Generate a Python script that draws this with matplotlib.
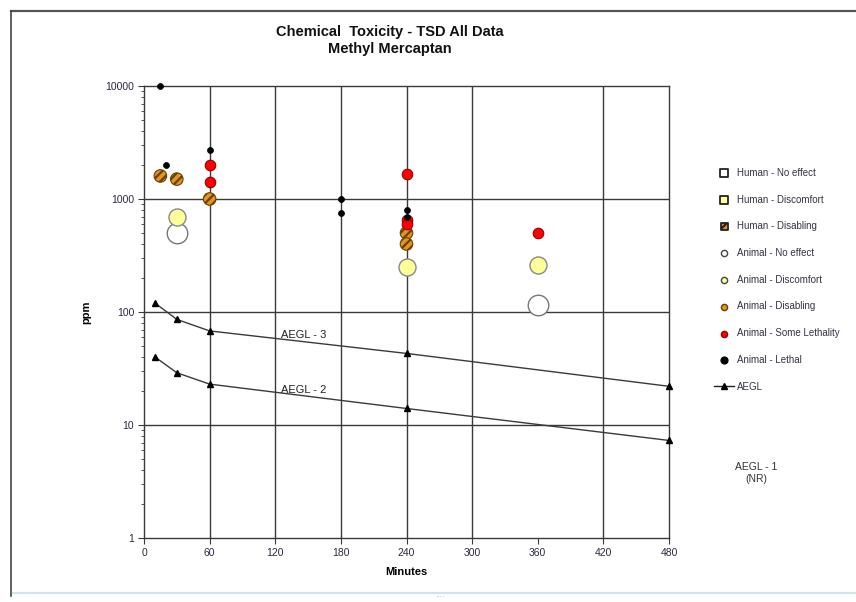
import matplotlib
matplotlib.use("Agg")
import matplotlib.pyplot as plt
from matplotlib.lines import Line2D
import numpy as np

plt.rcParams['font.family'] = ['Liberation Sans', 'DejaVu Sans']
plt.rcParams['hatch.linewidth'] = 1.6

# ---- data ----
animal_noeffect_t = [30, 360]
animal_noeffect_ppm = [500, 115]

animal_discomfort_t = [30, 240, 360]
animal_discomfort_ppm = [700, 250, 260]

animal_disabling_t = [15, 30, 60, 240, 240]
animal_disabling_ppm = [1600, 1500, 1000, 500, 400]

animal_somelethal_t = [60, 60, 240, 240, 240, 360]
animal_somelethal_ppm = [2000, 1400, 1650, 650, 600, 500]

animal_lethal_t = [15, 20, 60, 180, 180, 240, 240]
animal_lethal_ppm = [10000, 2000, 2700, 1000, 750, 800, 700]

aegl_t = [10, 30, 60, 240, 480]
aegl3_ppm = [120, 86, 68, 43, 22]
aegl2_ppm = [40, 29, 23, 14, 7.3]

x_ticks = [0, 60, 120, 180, 240, 300, 360, 420, 480]
x_grid = [60, 120, 180, 240, 300, 420]
y_ticks = [1, 10, 100, 1000, 10000]
y_tick_labels = ['1', '10', '100', '1000', '10000']

# ---- figure ----
W, H = 856, 602
fig = plt.figure(figsize=(W / 100, H / 100), dpi=100)
ax = fig.add_axes([144 / W, 1 - 538 / H, (669 - 144) / W, (538 - 86) / H])

ax.set_yscale('log')
ax.set_xlim(0, 480)
ax.set_ylim(1, 10000)

gridc = '#3a3a3a'
for yv in y_ticks[1:-1]:
    ax.axhline(yv, color=gridc, lw=1.0, zorder=1)
for xv in x_grid:
    ax.axvline(xv, color=gridc, lw=1.0, zorder=1)

for s in ['left', 'bottom', 'top', 'right']:
    ax.spines[s].set_color(gridc)
    ax.spines[s].set_linewidth(1.0)

ax.set_xticks(x_ticks)
ax.set_xticklabels([str(v) for v in x_ticks])
ax.set_yticks(y_ticks)
ax.set_yticklabels(y_tick_labels)
ax.tick_params(axis='both', which='major', direction='out', length=4, width=0.8,
               colors=gridc, labelsize=7.5, labelcolor='#2a2a40', pad=3)
ax.tick_params(axis='y', which='minor', direction='out', length=2.5, width=0.6, colors=gridc)
ax.yaxis.set_minor_formatter(matplotlib.ticker.NullFormatter())

ax.set_xlabel('Minutes', fontsize=8, fontweight='bold', labelpad=7)
ax.set_ylabel('ppm', fontsize=8, fontweight='bold', labelpad=10)

# AEGL lines
ax.plot(aegl_t, aegl3_ppm, color='#3a3a3a', lw=1.0, marker='^', ms=4.5,
        mfc='black', mec='black', zorder=3, clip_on=False)
ax.plot(aegl_t, aegl2_ppm, color='#3a3a3a', lw=1.0, marker='^', ms=4.5,
        mfc='black', mec='black', zorder=3, clip_on=False)
ax.text(125, 63, 'AEGL - 3', fontsize=8, color='#222222', ha='left', va='center')
ax.text(125, 20.5, 'AEGL - 2', fontsize=8, color='#222222', ha='left', va='center')

# animal series
a_ne = ax.scatter(animal_noeffect_t, animal_noeffect_ppm, s=20.5 ** 2 * 0.52, marker='o',
                  facecolor='white', edgecolor='#777777', lw=1.0, zorder=4)
a_dc = ax.scatter(animal_discomfort_t, animal_discomfort_ppm, s=17 ** 2 * 0.52, marker='o',
                  facecolor='#FFFF99', edgecolor='#888888', lw=1.0, zorder=5)
a_db = ax.scatter(animal_disabling_t, animal_disabling_ppm, s=12.5 ** 2 * 0.52, marker='o',
                  facecolor='#E0961E', edgecolor='#6b3f00', hatch='////', lw=0.8, zorder=6)
a_sl = ax.scatter(animal_somelethal_t, animal_somelethal_ppm, s=10.5 ** 2 * 0.52, marker='o',
                  facecolor='#FF0000', edgecolor='#990000', lw=0.8, zorder=7)
a_le = ax.scatter(animal_lethal_t, animal_lethal_ppm, s=6 ** 2 * 0.52, marker='o',
                  facecolor='black', edgecolor='black', lw=0.5, zorder=8, clip_on=False)

# legend
leg_handles = [
    ax.scatter([], [], marker='s', s=26, facecolor='white', edgecolor='#222222', lw=1.3),
    ax.scatter([], [], marker='s', s=26, facecolor='#FFFF99', edgecolor='#222222', lw=1.3),
    ax.scatter([], [], marker='s', s=26, facecolor='#E0961E', edgecolor='#222222', hatch='////', lw=1.3),
    ax.scatter([], [], marker='o', s=20, facecolor='white', edgecolor='#444444', lw=1.0),
    ax.scatter([], [], marker='o', s=20, facecolor='#FFFF99', edgecolor='#444444', lw=1.0),
    ax.scatter([], [], marker='o', s=20, facecolor='#E0961E', edgecolor='#6b3f00', lw=1.0),
    ax.scatter([], [], marker='o', s=20, facecolor='#FF0000', edgecolor='#990000', lw=1.0),
    ax.scatter([], [], marker='o', s=24, facecolor='black', edgecolor='black', lw=1.0),
    Line2D([], [], color='#222222', lw=1.0, marker='^', ms=4, mfc='black', mec='black'),
]
leg_labels = ['Human - No effect', 'Human - Discomfort', 'Human - Disabling',
              'Animal - No effect', 'Animal - Discomfort', 'Animal - Disabling',
              'Animal - Some Lethality', 'Animal - Lethal', 'AEGL']
leg = fig.legend(leg_handles, leg_labels, loc='upper left',
                 bbox_to_anchor=(709 / W, 1 - 163 / H), frameon=False,
                 fontsize=7, labelspacing=1.72, handlelength=2.1, handletextpad=0.3,
                 scatterpoints=1, borderpad=0)
for t in leg.get_texts():
    t.set_color('#333344')

fig.text(756 / W, 1 - 467 / H, 'AEGL - 1', fontsize=7.5, ha='center', va='center', color='#333333')
fig.text(756 / W, 1 - 479 / H, '(NR)', fontsize=7.5, ha='center', va='center', color='#333333')

# titles
fig.text(390 / W, 1 - 32 / H, 'Chemical  Toxicity - TSD All Data', fontsize=10.5,
         fontweight='bold', ha='center', va='center', color='#111111')
fig.text(390 / W, 1 - 49 / H, 'Methyl Mercaptan', fontsize=10.5,
         fontweight='bold', ha='center', va='center', color='#111111')

# frame of the chart object
fig.add_artist(Line2D([11 / W, 1], [1 - 11 / H, 1 - 11 / H], color='#555555', lw=1.6,
                      transform=fig.transFigure))
fig.add_artist(Line2D([11 / W, 11 / W], [1 - 11 / H, 1 - 596 / H], color='#444444', lw=1.2,
                      transform=fig.transFigure))
fig.add_artist(Line2D([13 / W, 1], [1 - 593 / H, 1 - 593 / H], color='#cde6ea', lw=1.6,
                      transform=fig.transFigure))
fig.text(440 / W, 1 - 598 / H, '····', fontsize=5, ha='center', va='center', color='#999999')

fig.savefig('out.png', dpi=100)
